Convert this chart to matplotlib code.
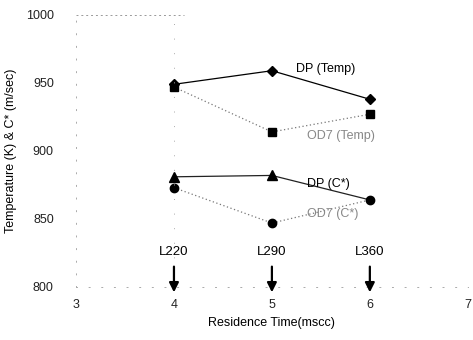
import matplotlib.pyplot as plt

plt.rcParams['font.family'] = ['Liberation Sans', 'DejaVu Sans']

# residence time (msec)
time = [4, 5, 6]

# temperature (K)
dp_temp = [949, 959, 938]
od7_temp = [947, 914, 927]

# characteristic velocity C* (m/sec)
dp_cstar = [881, 882, 864]
od7_cstar = [873, 847, 864]

# injector cases
cases = ["L220", "L290", "L360"]

fig = plt.figure(figsize=(4.73, 3.4), dpi=100)
ax = fig.add_axes([0.1607, 0.156, 0.8283, 0.80])

ax.plot(time, dp_temp, color='black', lw=0.9, marker='D', ms=5.5)
ax.plot(time, od7_temp, color='#777777', lw=0.9, ls=(0, (1, 2)),
        marker='s', ms=6, mfc='black', mec='black')
ax.plot(time, dp_cstar, color='#222222', lw=0.9, marker='^', ms=6.5,
        mfc='black', mec='black', markevery=[0, 1])
ax.plot(time, od7_cstar, color='#777777', lw=0.9, ls=(0, (1, 2)),
        marker='o', ms=6, mfc='black', mec='black')

ax.text(5.25, 960, "DP (Temp)", fontsize=9, va='center')
ax.text(5.36, 911, "OD7 (Temp)", fontsize=9, va='center', color='#888888')
ax.text(5.36, 876, "DP (C*)", fontsize=9, va='center')
ax.text(5.36, 854, "OD7 (C*)", fontsize=9, va='center', color='#888888')

for x, name in zip(time, cases):
    ax.annotate("", xy=(x, 794), xytext=(x, 817), annotation_clip=False,
                arrowprops=dict(arrowstyle='-|>', color='black', lw=1.6,
                                mutation_scale=14))
    ax.text(x, 826, name, fontsize=9.5, ha='center', va='center')

ax.set_xlim(3, 7)
ax.set_ylim(800, 1000)
ax.set_xticks([3, 4, 5, 6, 7])
ax.set_yticks([800, 850, 900, 950, 1000])
ax.tick_params(length=0, labelsize=9, pad=9, colors='#222222')
ax.tick_params(axis='y', pad=16)

for side in ['top', 'right']:
    ax.spines[side].set_visible(False)
for side in ['left', 'bottom']:
    ax.spines[side].set_linestyle((0, (1, 12)))
    ax.spines[side].set_color('#aaaaaa')
    ax.spines[side].set_linewidth(0.7)
ax.plot([3, 4.1], [1000, 1000], color='#999999', lw=0.7, ls=(0, (2, 3)),
        clip_on=False)
ax.plot([4, 4], [800, 1000], color='#aaaaaa', lw=0.7, ls=(0, (1, 14)))

ax.set_xlabel("Residence Time(mscc)", fontsize=9, labelpad=4)
ax.set_ylabel("Temperature (K) & C* (m/sec)", fontsize=9, labelpad=6)

fig.savefig("out.png", dpi=100)
